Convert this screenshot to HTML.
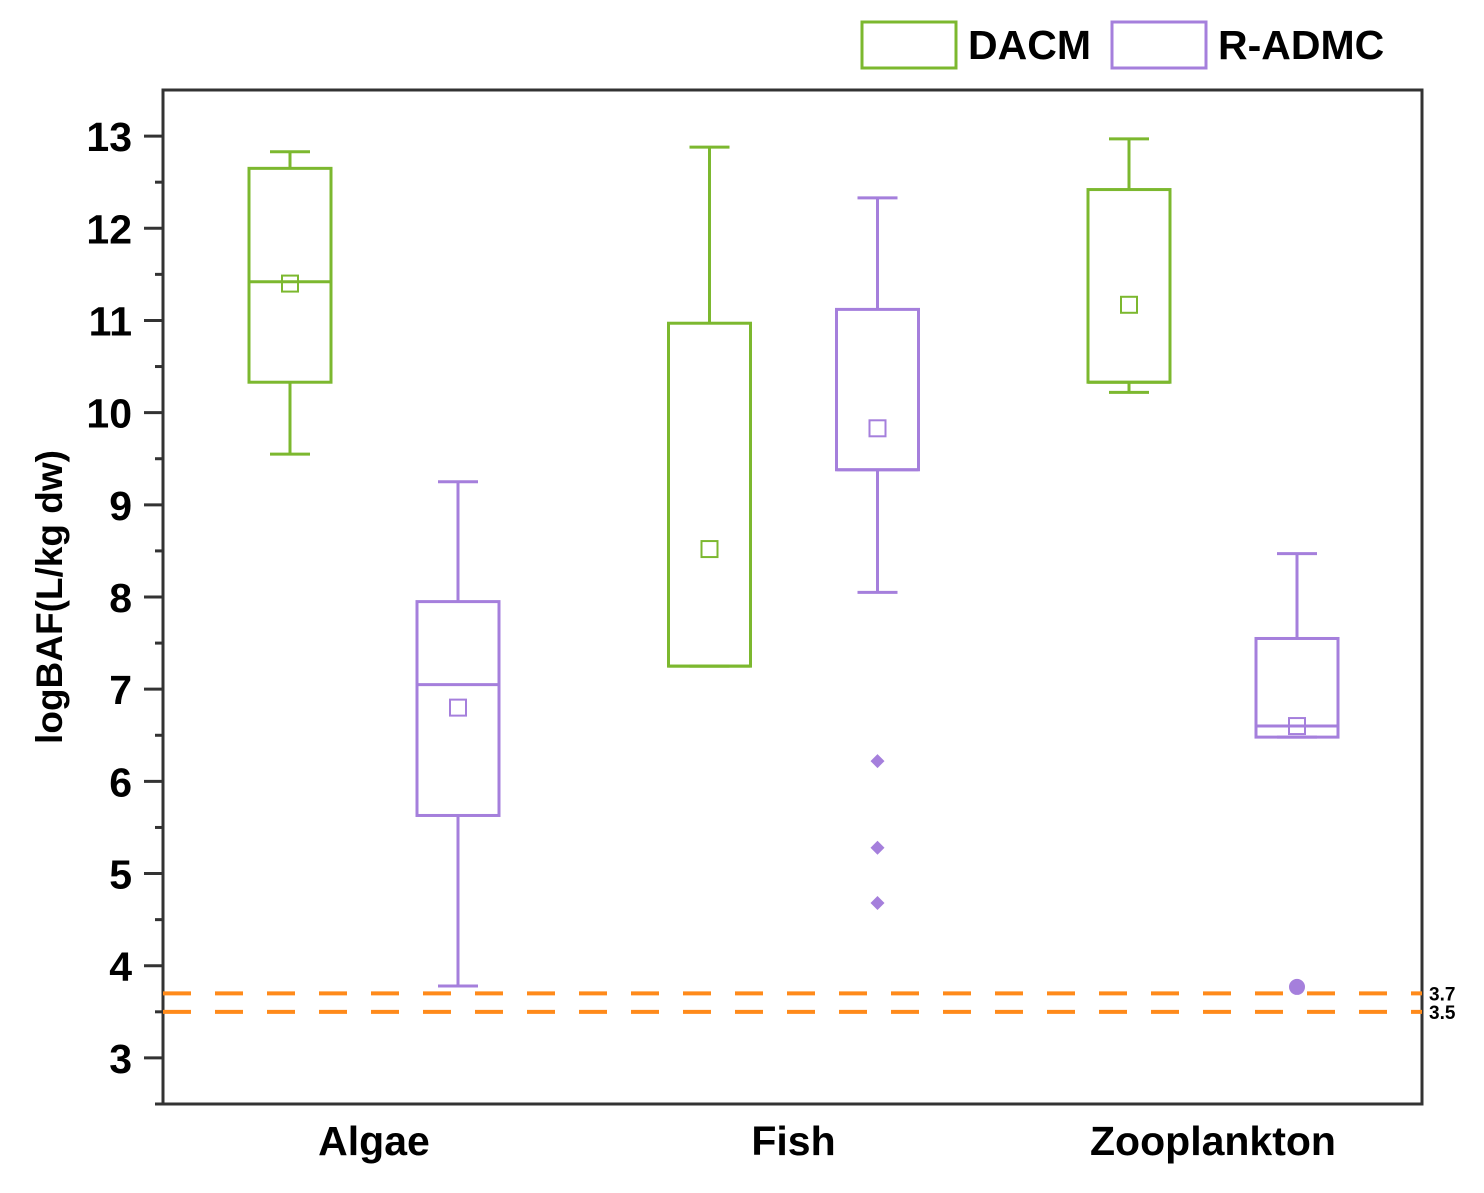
<!DOCTYPE html>
<html><head><meta charset="utf-8"><style>body{margin:0;background:#fff}svg{display:block}text{font-family:"Liberation Sans",Arial,sans-serif}</style></head>
<body>
<svg id="chart" width="1484" height="1193" viewBox="0 0 1484 1193"></svg>
<script>
const categories=["Algae","Fish","Zooplankton"];
const seriesNames=["DACM","R-ADMC"];
const dacmStats=[[9.55,10.33,11.42,12.65,12.83,11.4],[7.25,7.25,7.25,10.97,12.88,8.52],[10.22,10.33,10.33,12.42,12.97,11.17]];
const radmcStats=[[3.78,5.63,7.05,7.95,9.25,6.8],[8.05,9.38,9.38,11.12,12.33,9.83],[6.48,6.48,6.6,7.55,8.47,6.6]];
const radmcOutliers=[[],[6.22,5.28,4.68],[3.77]];
const outlierShapes=[[],["diamond","diamond","diamond"],["circle"]];
const yTicks=[3,4,5,6,7,8,9,10,11,12,13];
const refLines=[3.7,3.5];
const NS="http://www.w3.org/2000/svg",svg=document.getElementById('chart');
const X0=163,X1=1422,Y0=90,Y1=1104,ymin=2.5,ymax=13.5;
const y=v=>Y1-(v-ymin)/(ymax-ymin)*(Y1-Y0);
const catX=i=>374+i*419.5;
const COL=["#7cb82f","#a57fdc"];
function el(t,a,name){const e=document.createElementNS(NS,t);for(const k in a)e.setAttribute(k,a[k]);


svg.appendChild(e);return e;}
el('rect',{x:X0,y:Y0,width:X1-X0,height:Y1-Y0,fill:'none',stroke:'#333','stroke-width':3},'plot-frame');
yTicks.forEach(v=>{el('line',{x1:144,x2:X0,y1:y(v),y2:y(v),stroke:'#333','stroke-width':3},'y-tick');
const t=el('text',{x:132,y:y(v)+15,'text-anchor':'end','font-size':41,'font-weight':'bold'},'y-tick-label');t.textContent=v;
if(v<13)el('line',{x1:155,x2:X0,y1:y(v+0.5),y2:y(v+0.5),stroke:'#333','stroke-width':3},'y-minor-tick');});
el('line',{x1:155,x2:X0,y1:y(2.5),y2:y(2.5),stroke:'#333','stroke-width':3},'y-minor-tick');
const yt=el('text',{x:0,y:0,transform:'translate(62,597) rotate(-90)','text-anchor':'middle','font-size':37,'font-weight':'bold'},'y-axis-title');yt.textContent='logBAF(L/kg dw)';
categories.forEach((c,i)=>{const t=el('text',{x:catX(i),y:1155,'text-anchor':'middle','font-size':41,'font-weight':'bold'},'x-category-label');t.textContent=c;});
refLines.forEach(v=>{el('line',{x1:X0,x2:X1,y1:y(v),y2:y(v),stroke:'#ff8a1a','stroke-width':4,'stroke-dasharray':'28 24'},'reference-line');
const t=el('text',{x:1429,y:y(v)+7,'font-size':19,'font-weight':'bold'},'reference-line-label');t.textContent=v;});
function box(s,cx,col,name){const w=82,h=w/2;
el('line',{x1:cx,x2:cx,y1:y(s[4]),y2:y(s[3]),stroke:col,'stroke-width':3},name+'-whisker-upper');
el('line',{x1:cx,x2:cx,y1:y(s[1]),y2:y(s[0]),stroke:col,'stroke-width':3},name+'-whisker-lower');
el('line',{x1:cx-20,x2:cx+20,y1:y(s[4]),y2:y(s[4]),stroke:col,'stroke-width':3},name+'-cap-upper');
el('line',{x1:cx-20,x2:cx+20,y1:y(s[0]),y2:y(s[0]),stroke:col,'stroke-width':3},name+'-cap-lower');
el('rect',{x:cx-h,y:y(s[3]),width:w,height:y(s[1])-y(s[3]),fill:'none',stroke:col,'stroke-width':3},name+'-box');
el('line',{x1:cx-h,x2:cx+h,y1:y(s[2]),y2:y(s[2]),stroke:col,'stroke-width':3},name+'-median');
el('rect',{x:cx-8,y:y(s[5])-8,width:16,height:16,fill:'none',stroke:col,'stroke-width':2},name+'-mean');}
categories.forEach((c,i)=>{box(dacmStats[i],catX(i)-84,COL[0],'dacm-'+c.toLowerCase());
box(radmcStats[i],catX(i)+84,COL[1],'radmc-'+c.toLowerCase());
radmcOutliers[i].forEach((v,j)=>{const cx=catX(i)+84;
if(outlierShapes[i][j]==='circle')el('circle',{cx:cx,cy:y(v),r:8,fill:COL[1]},'outlier');
else el('path',{d:`M${cx},${y(v)-7}l7,7l-7,7l-7,-7z`,fill:COL[1]},'outlier');});});
el('rect',{x:862,y:22,width:94,height:46,fill:'none',stroke:COL[0],'stroke-width':3},'legend-dacm-swatch');
let t=el('text',{x:968,y:59,'font-size':41,'font-weight':'bold'},'legend-dacm-label');t.textContent=seriesNames[0];
el('rect',{x:1112,y:22,width:94,height:46,fill:'none',stroke:COL[1],'stroke-width':3},'legend-radmc-swatch');
t=el('text',{x:1218,y:59,'font-size':41,'font-weight':'bold'},'legend-radmc-label');t.textContent=seriesNames[1];
</script>
</body></html>
